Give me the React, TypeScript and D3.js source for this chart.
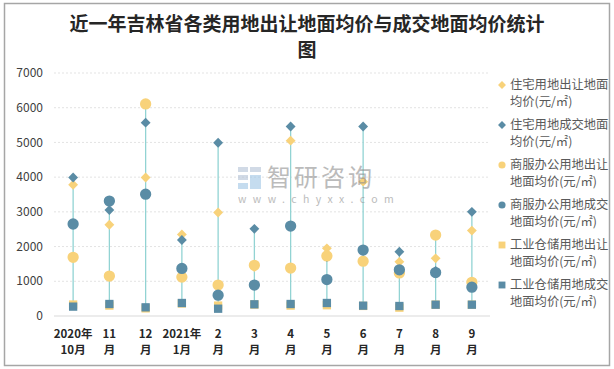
import * as d3 from 'd3';
import React from 'react';

// categories (two-line tick labels)
const months = ['2020年10月', '11月', '12月', '2021年1月', '2月', '3月', '4月', '5月', '6月', '7月', '8月', '9月'];
const tickLines = [
  ['2020年', '10月'], ['11', '月'], ['12', '月'], ['2021年', '1月'], ['2', '月'], ['3', '月'],
  ['4', '月'], ['5', '月'], ['6', '月'], ['7', '月'], ['8', '月'], ['9', '月'],
];

// series values (元/㎡)
const resTransfer = [3780, 2630, 3990, 2350, 2980, 1410, 5050, 1950, 3870, 1560, 1660, 2460];
const resDeal = [3990, 3050, 5570, 2190, 4990, 2510, 5460, 1700, 5460, 1850, 1300, 3000];
const comTransfer = [1690, 1150, 6110, 1120, 890, 1460, 1380, 1730, 1580, 1240, 2330, 970];
const comDeal = [2650, 3310, 3510, 1370, 600, 890, 2590, 1050, 1900, 1330, 1250, 830];
const indTransfer = [330, 300, 220, 360, 300, 330, 300, 310, 290, 240, 326, 326];
const indDeal = [270, 346, 250, 375, 210, 337, 346, 375, 298, 288, 326, 326];

const yTicks = [0, 1000, 2000, 3000, 4000, 5000, 6000, 7000];

const YELLOW = '#f8d27a';
const BLUE = '#5a8ca5';
const STEM = '#92d3d3';

const series = [
  { name: '住宅用地出让地面均价(元/㎡)', values: resTransfer, color: YELLOW, shape: 'diamond' },
  { name: '住宅用地成交地面均价(元/㎡)', values: resDeal, color: BLUE, shape: 'diamond' },
  { name: '商服办公用地出让地面均价(元/㎡)', values: comTransfer, color: YELLOW, shape: 'circle' },
  { name: '商服办公用地成交地面均价(元/㎡)', values: comDeal, color: BLUE, shape: 'circle' },
  { name: '工业仓储用地出让地面均价(元/㎡)', values: indTransfer, color: YELLOW, shape: 'square' },
  { name: '工业仓储用地成交地面均价(元/㎡)', values: indDeal, color: BLUE, shape: 'square' },
];

const legendLines = [
  ['住宅用地出让地面', '均价(元/㎡)'],
  ['住宅用地成交地面', '均价(元/㎡)'],
  ['商服办公用地出让', '地面均价(元/㎡)'],
  ['商服办公用地成交', '地面均价(元/㎡)'],
  ['工业仓储用地出让', '地面均价(元/㎡)'],
  ['工业仓储用地成交', '地面均价(元/㎡)'],
];

const width = 614;
const height = 369;
const font = "'Noto Sans CJK SC', 'Noto Sans', sans-serif";

function Marker({ shape, x, y, color, size }: { shape: string; x: number; y: number; color: string; size: number }) {
  const sym = shape === 'diamond' ? d3.symbolDiamond2 : shape === 'circle' ? d3.symbolCircle : d3.symbolSquare2;
  const path = d3.symbol().type(sym).size(size)();
  return <path d={path || ''} transform={`translate(${x},${y})`} fill={color} />;
}

export default function App() {
  const x = d3.scaleBand().domain(months).range([55, 490]);
  const y = d3.scaleLinear().domain([0, 7000]).range([316, 73]);
  const cx = (m: string) => (x(m) ?? 0) + x.bandwidth() / 2;

  const sizes: Record<string, number> = { diamond: 62, circle: 100, square: 88 };

  return (
    <svg width={width} height={height} style={{ position: 'absolute', left: 0, top: 0 }} fontFamily={font}>
      <rect x={0} y={0} width={width} height={height} fill="#fff" />
      <rect x={4.5} y={3.5} width={605} height={362} fill="none" stroke="#a6a6a6" strokeWidth={1.5} />

      <text x={307} y={31} textAnchor="middle" fontSize={19} fontWeight={700} fill="#262626">
        近一年吉林省各类用地出让地面均价与成交地面均价统计
      </text>
      <text x={307} y={57} textAnchor="middle" fontSize={19} fontWeight={700} fill="#262626">图</text>

      {/* grid */}
      {yTicks.slice(1).map((t) => (
        <line key={t} x1={54} x2={490} y1={y(t)} y2={y(t)} stroke="#e3e3e3" strokeDasharray="2,2" strokeWidth={1} />
      ))}
      <line x1={54} x2={490} y1={y(0)} y2={y(0)} stroke="#d9d9d9" strokeWidth={1.2} />

      {yTicks.map((t) => (
        <text key={t} x={43} y={y(t)} dy="0.35em" textAnchor="end" fontSize={12} fill="#404040">{t}</text>
      ))}

      {tickLines.map((lines, i) => (
        <g key={i}>
          {lines.map((l, j) => (
            <text key={j} x={cx(months[i])} y={338 + j * 16} textAnchor="middle" fontSize={11.5} fontWeight={700} fill="#262626">{l}</text>
          ))}
        </g>
      ))}

      {/* high-low stems */}
      {months.map((m, i) => {
        const vals = series.map((s) => s.values[i]);
        return (
          <line key={m} x1={cx(m)} x2={cx(m)} y1={y(d3.max(vals) as number)} y2={y(d3.min(vals) as number)} stroke={STEM} strokeWidth={1.3} />
        );
      })}

      {series.map((s) =>
        s.values.map((v, i) => (
          <Marker key={s.name + i} shape={s.shape} x={cx(months[i])} y={y(v)} color={s.color} size={sizes[s.shape]} />
        ))
      )}

      {/* legend */}
      {series.map((s, i) => (
        <g key={s.name} transform={`translate(0,${85 + i * 40})`}>
          <Marker shape={s.shape} x={502} y={0} color={s.color} size={s.shape === 'square' ? 60 : 40} />
          {legendLines[i].map((l, j) => (
            <text key={j} x={510} y={j * 17} dy="0.35em" fontSize={12.3} fill="#595959">{l}</text>
          ))}
        </g>
      ))}

      {/* watermark */}
      <g opacity={0.6}>
        <rect x={238} y={167} width={10} height={5} fill="#b4c3d6" />
        <rect x={250} y={167} width={11} height={5} fill="#b4c3d6" />
        <rect x={238} y={175} width={10} height={5} fill="#b4c3d6" />
        <rect x={250} y={175} width={11} height={14} fill="#9fc6e6" />
        <rect x={238} y={183} width={10} height={6} fill="#9fc6e6" />
        <text x={267} y={186} fontSize={24} fill="#8f8f8f" letterSpacing={3}>智研咨询</text>
        <text x={238} y={203} fontSize={10.5} fill="#8f8f8f" letterSpacing={6.4}>www.chyxx.com</text>
      </g>
    </svg>
  );
}
